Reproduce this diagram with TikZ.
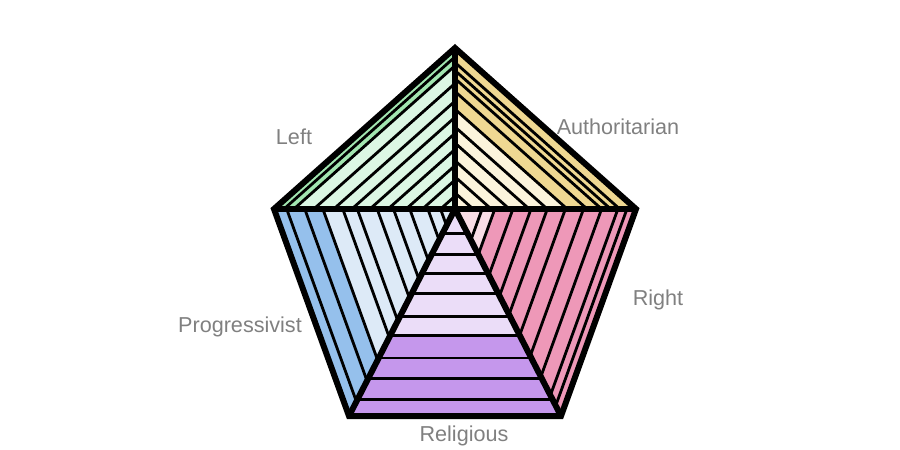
\documentclass[tikz,border=0pt]{standalone}
\usepackage{fontspec}
\setmainfont{Liberation Sans}
\usetikzlibrary{calc}
\definecolor{greenlo}{HTML}{DCF7E4}
\definecolor{greenhi}{HTML}{A2E6B0}
\definecolor{yellowlo}{HTML}{FCF4DC}
\definecolor{yellowhi}{HTML}{EFD892}
\definecolor{pinklo}{HTML}{F9DDE6}
\definecolor{pinkhi}{HTML}{EE98B8}
\definecolor{bluelo}{HTML}{DDEAF7}
\definecolor{bluehi}{HTML}{95C0EC}
\definecolor{purplelo}{HTML}{EBDDF8}
\definecolor{purplehi}{HTML}{C597EC}
\definecolor{labelgray}{HTML}{808080}
\begin{document}
\begin{tikzpicture}[x=1pt,y=-1pt,
		stripe/.style={line width=2.8pt},
		rim/.style={line width=6pt},
		axis/.style={text=labelgray,font=\fontsize{21.6}{26}\selectfont}]
	\useasboundingbox (0,0) rectangle (900,450);
	\coordinate (C) at (455,209);
	\coordinate (T) at (455,48);
	\coordinate (R) at (636,209);
	\coordinate (BR) at (561,416);
	\coordinate (BL) at (349,416);
	\coordinate (L) at (274,209);
	% Left
	\fill[greenlo] (C) -- (T) -- (L) -- cycle;
	\fill[greenhi] ($(C)!.89!(T)$) -- (T) -- (L) -- ($(C)!.89!(L)$) -- cycle;
	\foreach \t in {.08,.18,.27,.37,.47,.57,.67,.78,.89,.945}
		\draw[stripe] ($(C)!\t!(T)$) -- ($(C)!\t!(L)$);
	% Authoritarian
	\fill[yellowlo] (C) -- (T) -- (R) -- cycle;
	\fill[yellowhi] ($(C)!.62!(T)$) -- (T) -- (R) -- ($(C)!.62!(R)$) -- cycle;
	\foreach \t in {.1,.2,.3,.41,.51,.62,.73,.81,.86,.91}
		\draw[stripe] ($(C)!\t!(T)$) -- ($(C)!\t!(R)$);
	% Right
	\fill[pinklo] (C) -- (R) -- (BR) -- cycle;
	\fill[pinkhi] ($(C)!.22!(R)$) -- (R) -- (BR) -- ($(C)!.22!(BR)$) -- cycle;
	\foreach \t in {.15,.22,.32,.42,.51,.61,.71,.81,.9,.95}
		\draw[stripe] ($(C)!\t!(R)$) -- ($(C)!\t!(BR)$);
	% Progressivist
	\fill[bluelo] (C) -- (L) -- (BL) -- cycle;
	\fill[bluehi] ($(C)!.73!(L)$) -- (L) -- (BL) -- ($(C)!.73!(BL)$) -- cycle;
	\foreach \t in {.08,.15,.25,.34,.43,.54,.62,.73,.83,.93}
		\draw[stripe] ($(C)!\t!(L)$) -- ($(C)!\t!(BL)$);
	% Religious
	\fill[purplelo] (C) -- (BL) -- (BR) -- cycle;
	\fill[purplehi] ($(C)!.61!(BL)$) -- (BL) -- (BR) -- ($(C)!.61!(BR)$) -- cycle;
	\foreach \t in {.12,.22,.31,.41,.52,.61,.72,.82,.92}
		\draw[stripe] ($(C)!\t!(BL)$) -- ($(C)!\t!(BR)$);
	% frame
	\draw[rim] (L) -- (R);
	\draw[rim] (T) -- (C);
	\draw[rim] (BL) -- (C) -- (BR);
	\draw[rim] (T) -- (R) -- (BR) -- (BL) -- (L) -- cycle;
	\node[axis] (left) at (294,137) {Left};
	\node[axis] (auth) at (618,127) {Authoritarian};
	\node[axis] (right) at (658,300) {Right};
	\node[axis] (prog) at (240,327) {Progressivist};
	\node[axis] (relig) at (464,436) {Religious};
\end{tikzpicture}
\end{document}
